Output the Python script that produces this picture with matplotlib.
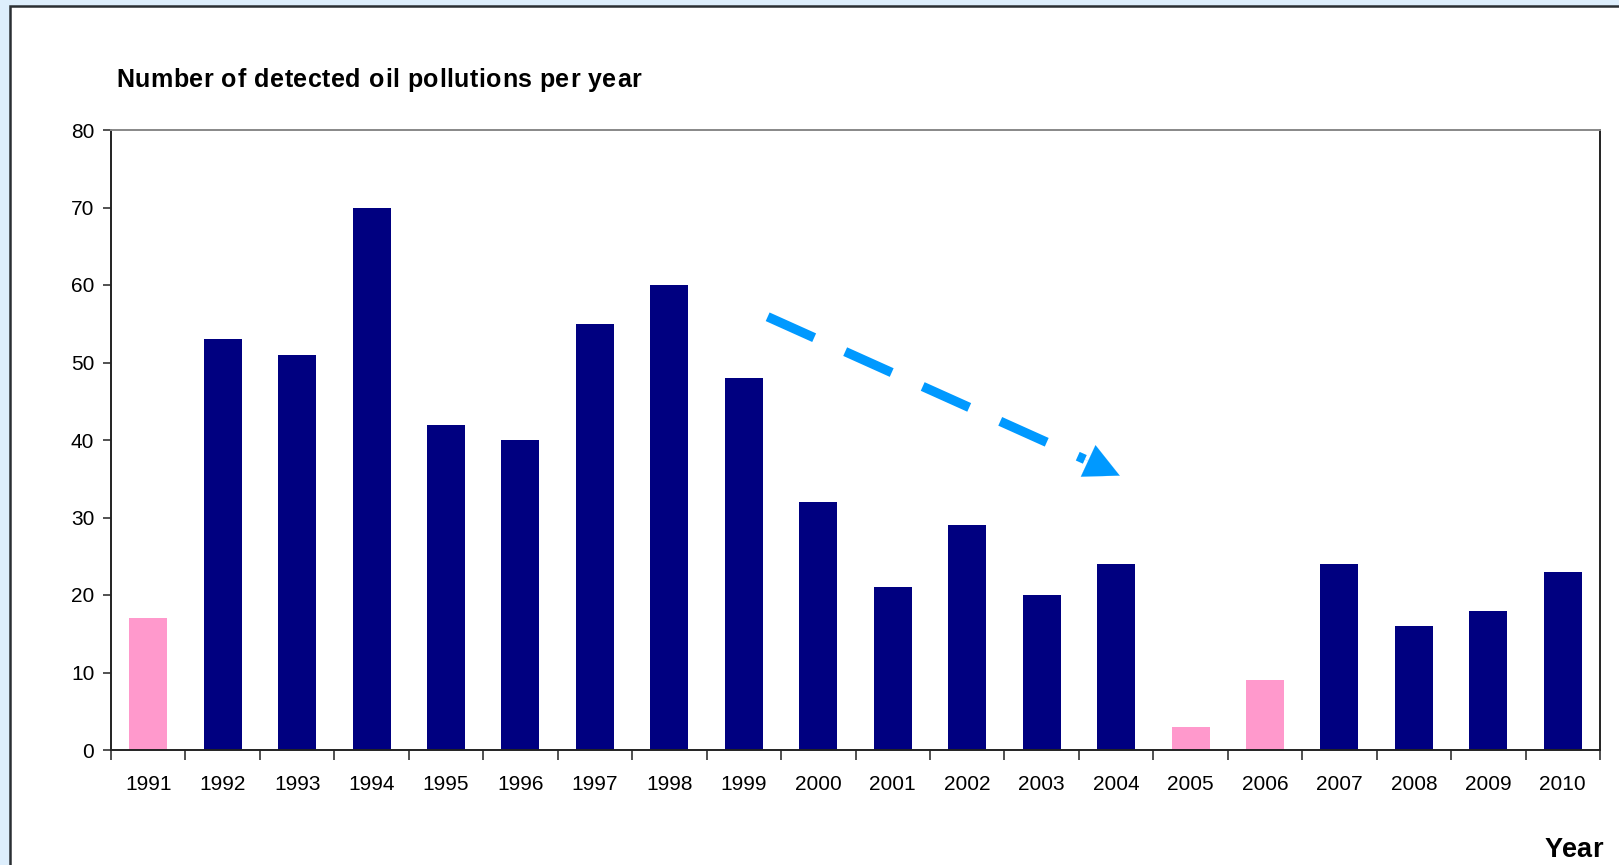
import matplotlib
matplotlib.use("Agg")
import matplotlib.pyplot as plt
from matplotlib.patches import Rectangle
import numpy as np

years = ["1991", "1992", "1993", "1994", "1995", "1996", "1997", "1998", "1999", "2000",
         "2001", "2002", "2003", "2004", "2005", "2006", "2007", "2008", "2009", "2010"]
counts = [17, 53, 51, 70, 42, 40, 55, 60, 48, 32, 21, 29, 20, 24, 3, 9, 24, 16, 18, 23]
# years with incomplete surveillance coverage are highlighted
partial_years = ["1991", "2005", "2006"]
y_ticks = [0, 10, 20, 30, 40, 50, 60, 70, 80]

NAVY = "#000080"
PINK = "#FF99CC"
ARROW = "#0099FF"

narrow = ["Liberation Sans Narrow", "Liberation Sans", "DejaVu Sans"]

W, H = 1619, 865
fig = plt.figure(figsize=(W / 100, H / 100), dpi=100)
fig.patch.set_facecolor("#DDEEFC")

# white panel with dark frame
panel = Rectangle((10 / W, -0.1), 1.2, 1.1 - 6 / H, transform=fig.transFigure,
                  facecolor="white", edgecolor="#2A2F33", linewidth=1.8, zorder=-5)
fig.patches.append(panel)

ax = fig.add_axes([111 / W, 1 - 750 / H, (1600 - 111) / W, (750 - 130) / H], zorder=1)
ax.set_facecolor("white")

x = np.arange(len(years))
colors = [PINK if y in partial_years else NAVY for y in years]
ax.bar(x, counts, width=0.51, color=colors, zorder=2)

ax.set_xlim(-0.5, len(years) - 0.5)
ax.set_ylim(0, 80)

ax.set_yticks(y_ticks)
ax.set_yticklabels([str(v) for v in y_ticks], fontfamily=narrow, fontsize=15)
ax.set_xticks(x)
ax.set_xticklabels(years, fontfamily=narrow, fontsize=15)
ax.tick_params(axis="x", length=0, pad=18)
ax.set_xticks(np.arange(len(years) + 1) - 0.5, minor=True)
ax.tick_params(axis="x", which="minor", length=7, width=1.2, color="#333333", direction="out")
ax.tick_params(axis="y", length=6, width=1.2, color="#333333", direction="out", pad=6)

for side in ["left", "bottom", "right"]:
    ax.spines[side].set_color("#222222")
    ax.spines[side].set_linewidth(1.4)
ax.spines["top"].set_color("#888888")
ax.spines["top"].set_linewidth(1.4)

# downward trend arrow
start = (8.32, 55.9)
tip = (13.05, 35.4)
head_base = (12.58, 37.5)
ax.plot([start[0], head_base[0]], [start[1], head_base[1]], color=ARROW, lw=6.8,
        dashes=(5.4, 3.6), solid_capstyle="butt", dash_capstyle="butt", zorder=3)
ax.annotate("", xy=tip, xytext=head_base,
            arrowprops=dict(arrowstyle="-|>,head_length=2.5,head_width=1.25",
                            color=ARROW, lw=0.1, shrinkA=0, shrinkB=0), zorder=4)


def spaced_text(s, x_px, y_px, target_px, **kw):
    """Draw a string glyph by glyph, tracked out to span a given width."""
    renderer = fig.canvas.get_renderer()

    def width(t):
        tmp = fig.text(0, 0, t, **kw)
        w = tmp.get_window_extent(renderer).width
        tmp.remove()
        return w

    spacing = max(0.0, (target_px - width(s)) / (len(s) - 1))
    for i, ch in enumerate(s):
        if ch == " ":
            continue
        left = width(s[:i + 1]) - width(ch)
        fig.text((x_px + left + i * spacing) / W, 1 - y_px / H, ch,
                 ha="left", va="center", **kw)


spaced_text("Number of detected oil pollutions per year", 116, 80, 525,
            fontfamily=narrow, fontweight="bold", fontsize=18)
spaced_text("Year", 1545, 850, 54, fontfamily=narrow, fontweight="bold", fontsize=19.5)

fig.savefig("out.png", dpi=100, facecolor=fig.get_facecolor())
